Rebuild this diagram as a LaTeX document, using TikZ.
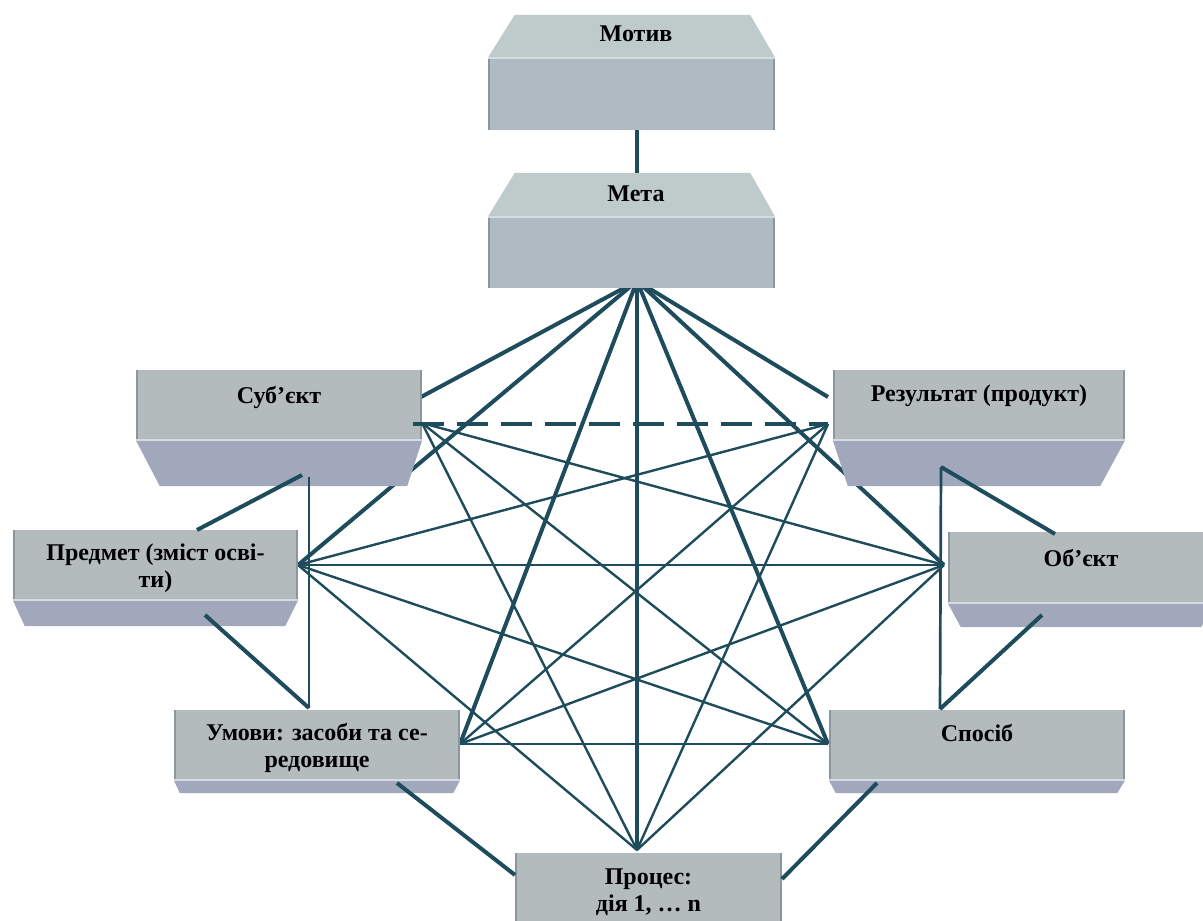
\documentclass[tikz,border=0pt]{standalone}
\usepackage{fontspec}
\setmainfont{Liberation Serif}
\usetikzlibrary{positioning,calc}

\definecolor{linkcol}{RGB}{30,76,92}
\definecolor{frontcol}{RGB}{179,187,189}
\definecolor{frontblue}{RGB}{176,186,194}
\definecolor{topcol}{RGB}{191,203,202}
\definecolor{bottomcol}{RGB}{161,168,187}
\definecolor{edgecol}{RGB}{140,150,158}
\definecolor{lightedge}{RGB}{212,220,226}

\begin{document}
\begin{tikzpicture}[x=1pt, y=-1pt,
        link/.style={draw=linkcol, line width=2.4pt},
        heavy/.style={draw=linkcol, line width=4pt}]
            \clip (0,0) rectangle (1203,921);
            % hubs
            \coordinate (mH) at (637,281);
            \coordinate (mB) at (637,130);
            \coordinate (mT) at (637,173);
            \coordinate (sT) at (421,397);
            \coordinate (sH) at (422,423);
            \coordinate (sD) at (413,424);
            \coordinate (rT) at (828,397);
            \coordinate (rH) at (828,424);
            \coordinate (pH) at (298,565);
            \coordinate (oH) at (944,565);
            \coordinate (uH) at (460,744);
            \coordinate (spH) at (828,744);
            \coordinate (prH) at (637,850);
            %%%
            \draw[heavy] (mH) -- (sT);
            \draw[heavy] (mH) -- (rT);
            \draw[heavy] (mH) -- (pH);
            \draw[heavy] (mH) -- (oH);
            \draw[heavy] (mH) -- (uH);
            \draw[heavy] (mH) -- (spH);
            \draw[heavy] (mH) -- (prH);
            %
            \draw[link] (sH) -- (oH);
            \draw[link] (sH) -- (spH);
            \draw[link] (sH) -- (prH);
            \draw[link] (rH) -- (pH);
            \draw[link] (rH) -- (uH);
            \draw[link] (rH) -- (prH);
            \draw[link] (pH) -- (oH);
            \draw[link] (pH) -- (spH);
            \draw[link] (pH) -- (prH);
            \draw[link] (oH) -- (uH);
            \draw[link] (oH) -- (prH);
            \draw[link] (uH) -- (spH);
            \begin{scope}[front/.style={rectangle, inner sep=0pt, fill=frontcol,
                    path picture={\fill[edgecol] (path picture bounding box.north west) rectangle ([xshift=2pt]path picture bounding box.south west);
                                  \fill[edgecol] ([xshift=-2pt]path picture bounding box.north east) rectangle (path picture bounding box.south east);}},
                    txt/.style={font=\fontsize{24}{27}\selectfont\bfseries, inner sep=0pt, align=center},
                    rim/.style={draw=lightedge, line width=1.5pt}]
                \node(motiv) at (631.5,94) [front, fill=frontblue, minimum width=287pt, minimum height=72pt]{};
                \fill[topcol] (motiv.north west) -- (motiv.north east) -- ++(-25,-43) -- ($(motiv.north west)+(27,-43)$) -- cycle;
                \draw[rim] (motiv.north west) -- (motiv.north east);
                \node(motivT) at (636,34) [txt]{Мотив};
                %%%
                \node(meta) at (631.5,252.5) [front, fill=frontblue, minimum width=287pt, minimum height=71pt]{};
                \fill[topcol] (meta.north west) -- (meta.north east) -- ++(-25,-44) -- ($(meta.north west)+(27,-44)$) -- cycle;
                \draw[rim] (meta.north west) -- (meta.north east);
                \node(metaT) at (636,194) [txt]{Мета};
                %%%
                \node(sub) at (279,405) [front, minimum width=286pt, minimum height=70pt]{};
                \fill[bottomcol] (sub.south west) -- (sub.south east) -- ++(-15,46) -- ($(sub.south west)+(24,46)$) -- cycle;
                \draw[rim] (sub.south west) -- (sub.south east);
                \node(subT) [txt, below=16pt of sub.north]{Суб’єкт};
                %%%
                \node(res) at (979,405) [front, minimum width=292pt, minimum height=70pt]{};
                \fill[bottomcol] (res.south west) -- (res.south east) -- ++(-25,46) -- ($(res.south west)+(15,46)$) -- cycle;
                \draw[rim] (res.south west) -- (res.south east);
                \node(resT) [txt, below=15pt of res.north]{Результат (продукт)};
                %%%
                \node(pred) at (155.5,565) [front, minimum width=285pt, minimum height=70pt]{};
                \fill[bottomcol] (pred.south west) -- (pred.south east) -- ++(-13,26) -- ($(pred.south west)+(12,26)$) -- cycle;
                \draw[rim] (pred.south west) -- (pred.south east);
                \node(predT) [txt, below=14pt of pred.north]{Предмет (зміст осві-\\ти)};
                %%%
                \node(obj) at (1081,567.5) [front, minimum width=266pt, minimum height=71pt]{};
                \fill[bottomcol] (obj.south west) -- (obj.south east) -- ++(-13,24) -- ($(obj.south west)+(13,24)$) -- cycle;
                \draw[rim] (obj.south west) -- (obj.south east);
                \node(objT) [txt, below=17pt of obj.north]{Об’єкт};
                %%%
                \node(umovy) at (317,745) [front, minimum width=286pt, minimum height=70pt]{};
                \fill[bottomcol] (umovy.south west) -- (umovy.south east) -- ++(-7,13) -- ($(umovy.south west)+(6,13)$) -- cycle;
                \draw[rim] (umovy.south west) -- (umovy.south east);
                \node(umovyT) [txt, below=13pt of umovy.north]{Умови: засоби та се-\\редовище};
                %%%
                \node(sposib) at (977,745) [front, minimum width=296pt, minimum height=70pt]{};
                \fill[bottomcol] (sposib.south west) -- (sposib.south east) -- ++(-8,13) -- ($(sposib.south west)+(7,13)$) -- cycle;
                \draw[rim] (sposib.south west) -- (sposib.south east);
                \node(sposibT) [txt, below=14pt of sposib.north]{Спосіб};
                %%%
                \node(proc) at (648.5,892) [front, minimum width=267pt, minimum height=78pt]{};
                \node(procT) [txt, below=16pt of proc.north]{Процес:\\ дія 1, … n};
            \end{scope}
            % outer links
            \coordinate (subB) at (302,475);
            \coordinate (subV) at (309,477);
            \coordinate (predA) at (197,530);
            \coordinate (predB) at (205,615);
            \coordinate (umA) at (309,708);
            \coordinate (umB) at (397,783);
            \coordinate (procL) at (515,875);
            \coordinate (resB) at (941,467);
            \coordinate (objA) at (1055,534);
            \coordinate (objB) at (1042,615);
            \coordinate (spA) at (940,709);
            \coordinate (spB) at (877,783);
            \coordinate (procR) at (782,879);
            %
            \draw[heavy] (mB) -- (mT);
            \draw[heavy, dash pattern=on 31pt off 13pt] (sD) -- (rH);
            \draw[heavy] (subB) -- (predA);
            \draw[link, line width=2.7pt] (subV) -- (umA);
            \draw[heavy] (predB) -- (umA);
            \draw[heavy] (umB) -- (procL);
            \draw[heavy] (resB) -- (objA);
            \draw[link, line width=2.7pt] (resB) -- (spA);
            \draw[heavy] (objB) -- (spA);
            \draw[heavy] (spB) -- (procR);
        \end{tikzpicture}
\end{document}
